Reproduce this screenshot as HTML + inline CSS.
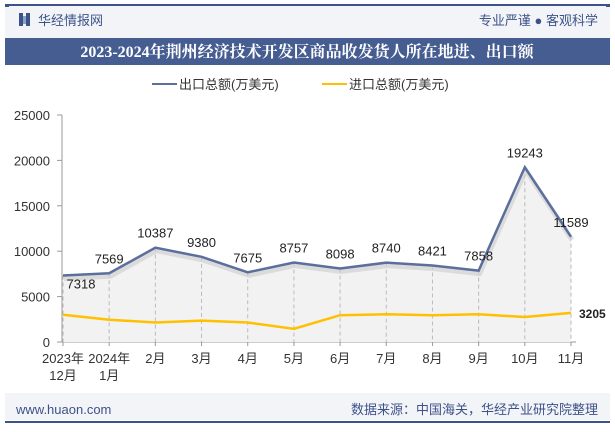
<!DOCTYPE html>
<html><head><meta charset="utf-8"><style>
body{margin:0;width:615px;height:427px;background:#fff;overflow:hidden;font-family:"Liberation Sans","Noto Sans CJK SC",sans-serif}
</style></head><body>
<svg width="615" height="427" xmlns="http://www.w3.org/2000/svg" font-family="Liberation Sans, Noto Sans CJK SC, sans-serif">
<rect x="5" y="5" width="605" height="33" fill="#f3f4f8"/>
<line x1="5" y1="5" x2="610" y2="5" stroke="#3d5289" stroke-width="2"/>
<rect x="5" y="4" width="4" height="3" fill="#3d5289"/><rect x="606" y="4" width="4" height="3" fill="#3d5289"/>
<g><rect x="19" y="13" width="4" height="13" fill="#3d5289"/><rect x="26" y="13" width="4" height="13" fill="#3d5289"/><polygon points="23,16 26,16 26,24 23,24" fill="#8da0c6"/></g>
<text x="38" y="25" font-size="13" fill="#3d5289">华经情报网</text>
<text x="598" y="25" font-size="13" fill="#3d5289" text-anchor="end">专业严谨 ● 客观科学</text>
<rect x="5" y="38" width="605" height="27" fill="#465d92"/>
<text x="307" y="57" font-size="16" font-weight="bold" fill="#fff" text-anchor="middle" font-family="Liberation Serif, Noto Serif CJK SC, serif">2023-2024年荆州经济技术开发区商品收发货人所在地进、出口额</text>
<g>
<line x1="152" y1="84" x2="177" y2="84" stroke="#5b6e9c" stroke-width="2"/>
<text x="179" y="89" font-size="13" fill="#333">出口总额(万美元)</text>
<line x1="322" y1="84" x2="347" y2="84" stroke="#ffc000" stroke-width="2"/>
<text x="349" y="89" font-size="13" fill="#333">进口总额(万美元)</text>
</g>
<g id="chart"></g>
<rect x="5" y="393" width="605" height="27" fill="#f3f4f8"/>
<line x1="5" y1="422" x2="610" y2="422" stroke="#3d5289" stroke-width="2"/>
<text x="16" y="414" font-size="13" fill="#3d5289">www.huaon.com</text>
<text x="598" y="414" font-size="13" fill="#3d5289" text-anchor="end">数据来源：中国海关，华经产业研究院整理</text>
</svg>
<script>
const categories=[["2023年","12月"],["2024年","1月"],["2月"],["3月"],["4月"],["5月"],["6月"],["7月"],["8月"],["9月"],["10月"],["11月"]];
const exportValues=[7318,7569,10387,9380,7675,8757,8098,8740,8421,7858,19243,11589];
const importValues=[3000,2450,2150,2350,2150,1450,2950,3050,2950,3050,2750,3205];
const yTicks=[0,5000,10000,15000,20000,25000];
const NS="http://www.w3.org/2000/svg";
const g=document.getElementById("chart");
const x0=63,x1=571,y0=342,yTop=115,yMax=25000;
const X=i=>x0+(x1-x0)*i/(categories.length-1);
const Y=v=>y0-(y0-yTop)*v/yMax;
function el(t,a,p){const e=document.createElementNS(NS,t);for(const k in a)e.setAttribute(k,a[k]);(p||g).appendChild(e);return e;}
let ax=el("line",{x1:62,y1:yTop,x2:62,y2:y0,stroke:"#999"});


let bx=el("line",{x1:62,y1:y0,x2:576,y2:y0,stroke:"#999"});


yTicks.forEach(v=>{
 el("line",{x1:57,y1:Y(v),x2:62,y2:Y(v),stroke:"#999"});
 const t=el("text",{x:50,y:Y(v)+5,"font-size":13,fill:"#333","text-anchor":"end"});t.textContent=v;
 
 
});
let area="M"+X(0)+","+y0;exportValues.forEach((v,i)=>area+=" L"+X(i)+","+Y(v));area+=" L"+X(11)+","+y0+"Z";
const ar=el("path",{d:area,fill:"#f2f2f2"});


exportValues.forEach((v,i)=>{const d=el("line",{x1:X(i),y1:Y(v),x2:X(i),y2:y0,stroke:"#bbb","stroke-dasharray":"4,3"});
 
 });
categories.forEach((c,i)=>{c.forEach((s,j)=>{const t=el("text",{x:X(i),y:363+j*17,"font-size":13,fill:"#333","text-anchor":"middle"});t.textContent=s;
 
 });
 el("line",{x1:X(i),y1:y0,x2:X(i),y2:y0+4,stroke:"#999"});});
const pts=a=>a.map((v,i)=>X(i)+","+Y(v)).join(" ");
const sh=el("polyline",{points:pts(exportValues),fill:"none",stroke:"#ccc","stroke-width":5,transform:"translate(1,3)",opacity:0.6});


const le=el("polyline",{points:pts(exportValues),fill:"none",stroke:"#5b6e9c","stroke-width":2.5});


const li=el("polyline",{points:pts(importValues),fill:"none",stroke:"#ffc000","stroke-width":2.5});


exportValues.forEach((v,i)=>{let dy=i===0?13:-10;
 const t=el("text",{x:X(i)+(i===0?18:0),y:Y(v)+dy,"font-size":13,fill:"#222","text-anchor":"middle"});t.textContent=v;
 
 });
const lt=el("text",{x:X(11)+8,y:Y(importValues[11])+5,"font-size":12,"font-weight":"bold",fill:"#222"});lt.textContent=importValues[11];


</script>
</body></html>
